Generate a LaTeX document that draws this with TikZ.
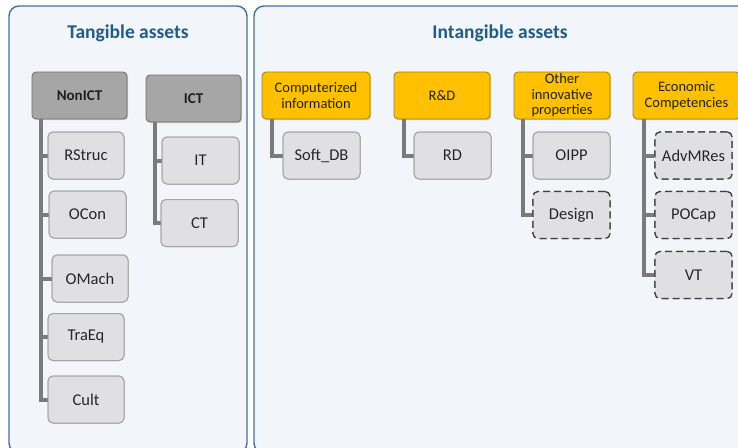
\documentclass[tikz,border=0pt]{standalone}
\usepackage{fontspec}
\setmainfont{Carlito}
\usetikzlibrary{shadows}
\definecolor{panelline}{HTML}{41719C}
\definecolor{panelfill}{HTML}{F2F5F9}
\definecolor{titleblue}{HTML}{1F5C8A}
\definecolor{hdrgrayfill}{HTML}{A6A6A6}
\definecolor{hdrgrayline}{HTML}{6B6B6B}
\definecolor{hdrorangefill}{HTML}{FFC000}
\definecolor{hdrorangeline}{HTML}{A88000}
\definecolor{childfill}{HTML}{E0E0E3}
\definecolor{childline}{HTML}{A3A3A3}
\definecolor{dashline}{HTML}{3F3F3F}
\definecolor{treegray}{HTML}{7A7A7C}
\tikzset{
  panel/.style={draw=panelline, fill=panelfill, line width=1.4pt, rounded corners=10pt},
  paneltitle/.style={text=titleblue, font=\fontsize{19.5}{21}\selectfont\bfseries},
  hdr/.style={rounded corners=4pt, line width=0.8pt, inner sep=1pt, align=center,
    minimum height=47pt, text=black!88,
    drop shadow={shadow xshift=1.2pt, shadow yshift=-1.2pt, opacity=0.35}},
  hdrgray/.style={hdr, fill=hdrgrayfill, draw=hdrgrayline, minimum width=95pt,
    font=\fontsize{15}{16}\selectfont\bfseries},
  hdrorange/.style={hdr, fill=hdrorangefill, draw=hdrorangeline,
    font=\fontsize{14.5}{16}\selectfont},
  child/.style={fill=childfill, draw=childline, rounded corners=5pt, line width=1pt,
    minimum width=77pt, minimum height=47pt, text=black!85,
    font=\fontsize{16.5}{18}\selectfont},
  dchild/.style={child, draw=dashline, line width=1.2pt, dash pattern=on 7pt off 4pt},
  tree/.style={draw=treegray, line width=4pt}
}
\begin{document}
\begin{tikzpicture}[x=1pt, y=-1pt]
\useasboundingbox (0,0) rectangle (738,447);
\clip (0,0) rectangle (738,447);

% background panels
\draw[panel] (9,6) rectangle (247,453);
\draw[panel] (254,6) rectangle (752,453);
\node[paneltitle] (ttan) at (128,33) {Tangible assets};
\node[paneltitle] (tint) at (500,33) {Intangible assets};

% tangible: category headers
\node[hdrgray] (nonict) at (79.5,95.5) {NonICT};
\node[hdrgray] (ict) at (193.5,98.5) {ICT};

% tangible: asset boxes
\node[child, minimum width=76pt] (rstruc) at (86,155.5) {RStruc};
\node[child] (ocon) at (87.5,214.5) {OCon};
\node[child, minimum width=76pt] (omach) at (90,278.5) {OMach};
\node[child, minimum width=76pt] (traeq) at (86,337) {TraEq};
\node[child, minimum width=76pt] (cult) at (86,399.5) {Cult};
\node[child] (it) at (200.5,160.5) {IT};
\node[child] (ct) at (199.5,223) {CT};

% intangible: category headers
\node[hdrorange, minimum width=108pt] (compinfo) at (316,95.5) {Computerized\\information};
\node[hdrorange, minimum width=96pt] (rnd) at (442,95.5) {R\&D};
\node[hdrorange, minimum width=96pt, font=\fontsize{14.5}{15.5}\selectfont] (oip) at (562,95.5) {Other\\innovative\\properties};
\node[hdrorange, minimum width=107pt] (econ) at (686.5,95.5) {Economic\\Competencies};

% intangible: asset boxes
\node[child] (softdb) at (321.5,155.5) {Soft\_DB};
\node[child] (rd) at (452.5,155.5) {RD};
\node[child] (oipp) at (571.5,155.5) {OIPP};
\node[dchild] (design) at (571.5,215) {Design};
\node[dchild] (advmres) at (693.5,155.5) {AdvMRes};
\node[dchild] (pocap) at (693.5,215) {POCap};
\node[dchild] (vt) at (693.5,275) {VT};

% trunk positions below each header
\coordinate (tnonict) at ([xshift=9pt]nonict.south west);
\coordinate (tict) at ([xshift=9pt]ict.south west);
\coordinate (tcomp) at ([xshift=10pt]compinfo.south west);
\coordinate (trnd) at ([xshift=10pt]rnd.south west);
\coordinate (toip) at ([xshift=9pt]oip.south west);
\coordinate (tecon) at ([xshift=11pt]econ.south west);

% tree connectors
\draw[tree] (tnonict) |- (cult.west);
\foreach \c in {rstruc,ocon,omach,traeq} \draw[tree] (\c.west) -- (\c.west -| tnonict);
\draw[tree] (tict) |- (ct.west);
\draw[tree] (it.west) -- (it.west -| tict);
\draw[tree] (tcomp) |- (softdb.west);
\draw[tree] (trnd) |- (rd.west);
\draw[tree] (toip) |- (design.west);
\draw[tree] (oipp.west) -- (oipp.west -| toip);
\draw[tree] (tecon) |- (vt.west);
\foreach \c in {advmres,pocap} \draw[tree] (\c.west) -- (\c.west -| tecon);

% redraw boxes over the connector ends
\node[child, minimum width=76pt] at (rstruc) {RStruc};
\node[child] at (ocon) {OCon};
\node[child, minimum width=76pt] at (omach) {OMach};
\node[child, minimum width=76pt] at (traeq) {TraEq};
\node[child, minimum width=76pt] at (cult) {Cult};
\node[child] at (it) {IT};
\node[child] at (ct) {CT};
\node[child] at (softdb) {Soft\_DB};
\node[child] at (rd) {RD};
\node[child] at (oipp) {OIPP};
\node[dchild] at (design) {Design};
\node[dchild] at (advmres) {AdvMRes};
\node[dchild] at (pocap) {POCap};
\node[dchild] at (vt) {VT};
\end{tikzpicture}
\end{document}
